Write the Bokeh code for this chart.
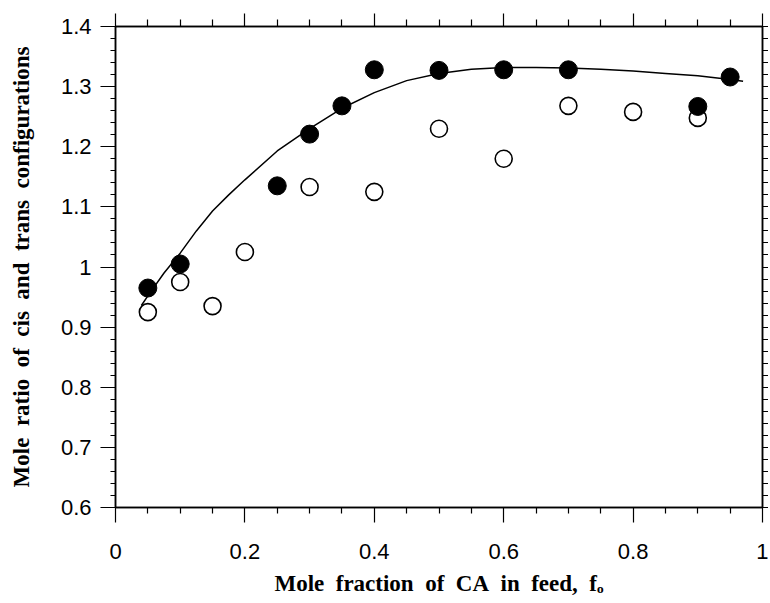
from bokeh.plotting import figure
from bokeh.models import LinearAxis, FixedTicker, CustomJSTickFormatter, Range1d
from bokeh.embed import file_html
from bokeh.resources import INLINE

# Filled circles (series 1)
filled_x = [0.05, 0.10, 0.25, 0.30, 0.35, 0.40, 0.50, 0.60, 0.70, 0.90, 0.95]
filled_y = [0.965, 1.005, 1.135, 1.221, 1.268, 1.328, 1.327, 1.328, 1.328, 1.267, 1.316]

# Open circles (series 2)
open_x = [0.05, 0.10, 0.15, 0.20, 0.30, 0.40, 0.50, 0.60, 0.70, 0.80, 0.90]
open_y = [0.925, 0.975, 0.935, 1.025, 1.133, 1.125, 1.230, 1.180, 1.268, 1.258, 1.248]

# Fitted curve
curve_x = [0.04, 0.05, 0.075, 0.10, 0.125, 0.15, 0.175, 0.20, 0.25, 0.30, 0.35, 0.40, 0.45,
           0.50, 0.55, 0.60, 0.65, 0.70, 0.75, 0.80, 0.85, 0.90, 0.95, 0.97]
curve_y = [0.936, 0.952, 0.990, 1.023, 1.060, 1.093, 1.120, 1.145, 1.193, 1.230, 1.264, 1.290, 1.310,
           1.322, 1.329, 1.332, 1.332, 1.331, 1.329, 1.326, 1.322, 1.318, 1.312, 1.309]

x_major = [0, 0.2, 0.4, 0.6, 0.8, 1.0]
x_minor = [0.05, 0.1, 0.15, 0.25, 0.3, 0.35, 0.45, 0.5, 0.55, 0.65, 0.7, 0.75, 0.85, 0.9, 0.95]
y_major = [0.6, 0.7, 0.8, 0.9, 1.0, 1.1, 1.2, 1.3, 1.4]
y_minor = [0.6 + 0.02 * i for i in range(41)]

SP = "\u00a0\u00a0"
x_title = SP.join(["Mole", "fraction", "of", "CA", "in", "feed,", "f\u2092"])
y_title = SP.join(["Mole", "ratio", "of", "cis", "and", "trans", "configurations"])

p = figure(frame_width=647, frame_height=481,
           min_border_left=115, min_border_right=6, min_border_top=26, min_border_bottom=96,
           x_range=Range1d(0, 1), y_range=Range1d(0.6, 1.4),
           output_backend="svg", toolbar_location=None,
           x_axis_location=None, y_axis_location=None)
p.xgrid.visible = False
p.ygrid.visible = False
p.outline_line_color = "black"
p.outline_line_width = 1.5
p.background_fill_color = "white"
p.border_fill_color = "white"

fmt = CustomJSTickFormatter(code="return tick.toFixed(1).replace(/\\.0$/, '');")
blank = CustomJSTickFormatter(code="return '';")

def style(ax, major_out, minor_out):
    ax.axis_line_color = "black"
    ax.axis_line_width = 1.5
    ax.major_tick_line_color = "black"
    ax.minor_tick_line_color = "black"
    ax.major_tick_line_width = 1.2
    ax.minor_tick_line_width = 1.2
    ax.major_tick_out = major_out
    ax.major_tick_in = 0
    ax.minor_tick_out = minor_out
    ax.minor_tick_in = 0
    ax.major_label_text_font = "Liberation Sans"
    ax.major_label_text_font_size = "22px"
    ax.major_label_text_color = "black"
    ax.axis_label_text_font = "Liberation Serif"
    ax.axis_label_text_font_style = "bold"
    ax.axis_label_text_font_size = "23px"
    ax.axis_label_text_color = "black"

xb = LinearAxis(ticker=FixedTicker(ticks=x_major, minor_ticks=x_minor), formatter=fmt,
                axis_label=x_title)
style(xb, 15, 6)
xb.major_label_standoff = 21
xb.axis_label_standoff = 9
p.add_layout(xb, "below")

xt = LinearAxis(ticker=FixedTicker(ticks=x_major, minor_ticks=x_minor), formatter=blank)
style(xt, 13, 7)
xt.major_label_standoff = 0
p.add_layout(xt, "above")

yl = LinearAxis(ticker=FixedTicker(ticks=y_major, minor_ticks=y_minor), formatter=fmt,
                axis_label=y_title)
style(yl, 15, 5)
yl.major_label_standoff = 9
yl.axis_label_standoff = 24
p.add_layout(yl, "left")

yr = LinearAxis(ticker=FixedTicker(ticks=y_major, minor_ticks=y_minor), formatter=blank)
style(yr, 6, 6)
yr.major_label_standoff = 0
p.add_layout(yr, "right")

p.line(curve_x, curve_y, line_color="black", line_width=1.5)
p.scatter(open_x, open_y, size=17, fill_color="white", line_color="black", line_width=1.6)
p.scatter(filled_x, filled_y, size=18, fill_color="black", line_color="black")

open("out.html", "w").write(file_html(p, INLINE))
